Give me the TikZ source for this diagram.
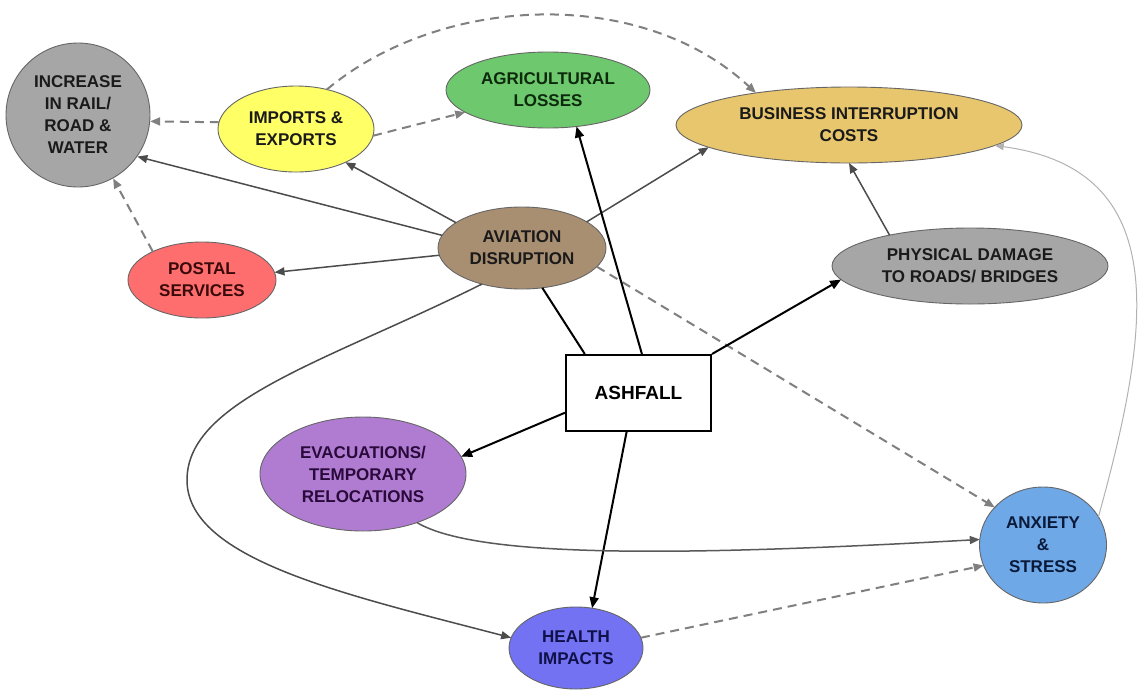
\documentclass[tikz,border=0pt]{standalone}
\usepackage{fontspec}
\setmainfont{Liberation Sans}
\usetikzlibrary{arrows.meta,shapes.geometric}
\definecolor{cInc}{HTML}{A6A6A6}
\definecolor{cImp}{HTML}{FFFF66}
\definecolor{cAgr}{HTML}{6EC86E}
\definecolor{cBus}{HTML}{E8C66E}
\definecolor{cAvi}{HTML}{A98F72}
\definecolor{cPos}{HTML}{FF6E6E}
\definecolor{cPhy}{HTML}{A6A6A6}
\definecolor{cEva}{HTML}{B07CD2}
\definecolor{cAnx}{HTML}{6FA8E6}
\definecolor{cHea}{HTML}{7272F2}
\definecolor{tGen}{HTML}{1A1A1A}
\definecolor{tPos}{HTML}{3A0A0A}
\definecolor{tEva}{HTML}{2A0A3A}
\definecolor{tAnx}{HTML}{0A1A3A}
\definecolor{tHea}{HTML}{10104A}
\definecolor{tAgr}{HTML}{0D2A0D}
\begin{document}
\begin{tikzpicture}[x=1pt,y=-1pt,
  ell/.style={ellipse, draw=black!60, line width=0.9pt, inner sep=0pt, outer sep=0pt},
  txt/.style={font=\fontsize{17}{22}\selectfont\bfseries, align=center, inner sep=0pt, text=tGen},
  avarrow/.style={draw=black!70, line width=1.5pt, -{Triangle[length=10pt,width=8pt]}},
  asharrow/.style={draw=black, line width=2pt, -{Triangle[length=11pt,width=9pt]}},
  dsharrow/.style={draw=black!50, line width=2pt, dash pattern=on 9pt off 6pt, -{Triangle[length=10pt,width=8pt]}},
  faintarrow/.style={draw=black!30, line width=1pt, -{Triangle[length=9pt,width=7pt]}}]
\useasboundingbox[fill=white] (0,0) rectangle (1143,689);

% nodes
\node[circle, draw=black!60, line width=0.9pt, inner sep=0pt, fill=cInc, minimum size=144pt,
  label={[txt]center:INCREASE\\IN RAIL/\\ROAD \&\\WATER}] (inc) at (78,115) {};
\node[ell, fill=cImp, minimum width=156pt, minimum height=86pt,
  label={[txt]center:IMPORTS \&\\EXPORTS}] (imp) at (296,129) {};
\node[ell, fill=cAgr, minimum width=204pt, minimum height=76pt,
  label={[txt,text=tAgr]center:AGRICULTURAL\\LOSSES}] (agri) at (548,90) {};
\node[ell, fill=cBus, minimum width=346pt, minimum height=76pt,
  label={[txt]center:BUSINESS INTERRUPTION\\COSTS}] (bus) at (849,125) {};
\node[ell, fill=cAvi, minimum width=168pt, minimum height=82pt,
  label={[txt]center:AVIATION\\DISRUPTION}] (avi) at (522,248) {};
\node[ell, fill=cPos, minimum width=148pt, minimum height=76pt,
  label={[txt,text=tPos]center:POSTAL\\SERVICES}] (pos) at (202,280) {};
\node[ell, fill=cPhy, minimum width=276pt, minimum height=76pt,
  label={[txt]center:PHYSICAL DAMAGE\\TO ROADS/ BRIDGES}] (phy) at (970,266) {};
\node[draw=black, line width=2pt, fill=white, minimum width=145pt, minimum height=76pt,
  inner sep=0pt, font=\fontsize{19}{22}\selectfont\bfseries] (ash) at (638.5,393) {ASHFALL};
\node[ell, fill=cEva, minimum width=206pt, minimum height=114pt,
  label={[txt,text=tEva]center:EVACUATIONS/\\TEMPORARY\\RELOCATIONS}] (eva) at (363,474) {};
\node[ell, fill=cAnx, minimum width=127pt, minimum height=116pt,
  label={[txt,text=tAnx]center:ANXIETY\\\&\\STRESS}] (anx) at (1043,545) {};
\node[ell, fill=cHea, minimum width=134pt, minimum height=82pt,
  label={[txt,text=tHea]center:HEALTH\\IMPACTS}] (hea) at (576,648) {};

% dashed connectors
\draw[dsharrow] (imp.175) -- (inc.-5);
\draw[dsharrow] (imp.-5) -- (agri.195);
\draw[dsharrow] (imp.52) .. controls (440,-5) and (640,-15) .. (bus.161);
\draw[dsharrow] (pos.150) -- (inc.-61);
\draw[dsharrow] (avi.-14) -- (anx.142);
\draw[dsharrow] (hea.9) -- (anx.199);

% aviation connectors
\draw[avarrow] (avi.171) -- (inc.-35);
\draw[avarrow] (avi.159) -- (imp.-34);
\draw[avarrow] (avi.185) -- (pos.6);
\draw[avarrow] (avi.22) -- (bus.189);
\draw[avarrow] (avi.222) .. controls (328,361) and (187,400) .. (187,480)
  .. controls (187,560) and (348,595) .. (hea.171);

% ashfall connectors
\draw[draw=black, line width=2pt] (ash.144) -- (avi.-63);
\draw[asharrow] (ash.85) -- (agri.-52);
\draw[asharrow] (ash.north east) -- (phy.186);
\draw[asharrow] (ash.195) -- (eva.10);
\draw[asharrow] (ash.-107) -- (hea.68);

% others
\draw[avarrow] (phy.159) -- (bus.-90);
\draw[avarrow, draw=black!65] (eva.-42) .. controls (480,560) and (700,555) .. (anx.175);
\draw[faintarrow] (anx.27) .. controls (1150,330) and (1175,170) .. (bus.-8);
\end{tikzpicture}
\end{document}
